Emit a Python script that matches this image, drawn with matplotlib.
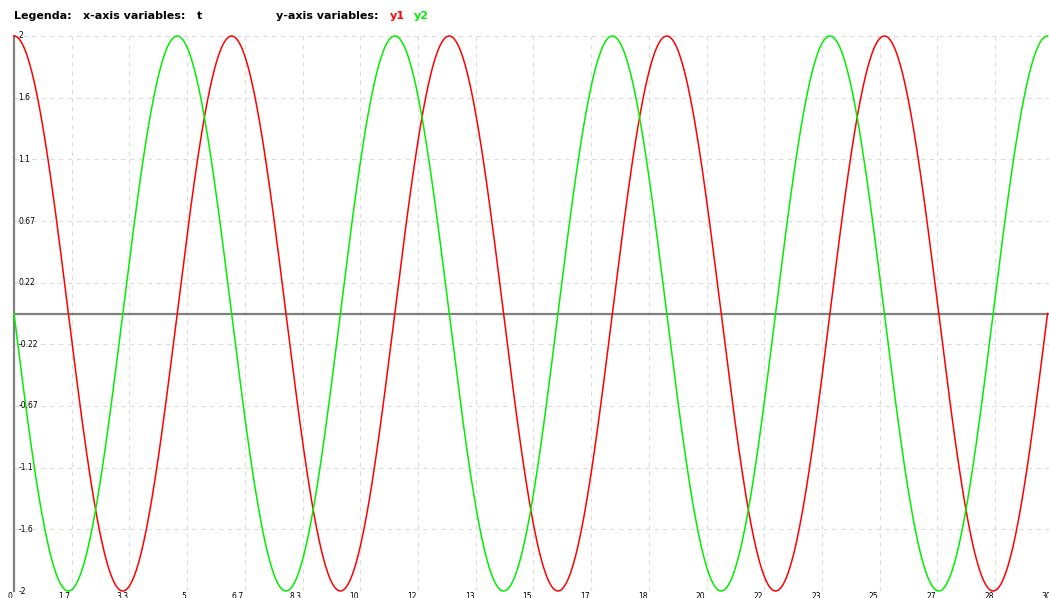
import matplotlib.pyplot as plt
import numpy as np

# sampled curves: y1 = 2 cos t, y2 = -2 sin t, t from 0 to 9.5 pi
t = np.linspace(0, 9.5 * np.pi, 2000)
y1 = 2 * np.cos(t)
y2 = -2 * np.sin(t)

x_ticks = np.linspace(0, 30, 19)
y_ticks = np.linspace(-2, 2, 10)


def short(v):
    # two significant digits, like the tick labels
    if abs(v) < 1e-9:
        return "0"
    return "%.2g" % v


fig = plt.figure(figsize=(10.49, 5.98), dpi=100)
W, H = 1049, 598
x0, x1 = 14, 14 + 30 * 34.63
ytop, ybot = 36, 591
ax = fig.add_axes([x0 / W, 1 - ybot / H, (x1 - x0) / W, (ybot - ytop) / H])
ax.set_xlim(0, 30)
ax.set_ylim(-2, 2)
for s in ax.spines.values():
    s.set_visible(False)
ax.set_xticks([])
ax.set_yticks([])

grid = dict(color='#dcdcdc', lw=0.8, ls=(0, (4, 4)), zorder=1)
for xv in x_ticks[1:]:
    ax.axvline(xv, **grid)
for yv in y_ticks:
    ax.axhline(yv, **grid)

ax.axhline(0, color='#808080', lw=1.6, zorder=2)
ax.axvline(0, color='#808080', lw=1.6, zorder=2, clip_on=False)

ax.plot(t, y1, color='#ff0000', lw=1.1, zorder=3, clip_on=False)
ax.plot(t, y2, color='#00ee00', lw=1.1, zorder=3, clip_on=False)

for yv in y_ticks:
    ax.annotate(short(yv), (0, yv), xytext=(3, 0), textcoords='offset points',
                fontsize=5.5, ha='left', va='center', color='black')
for xv in x_ticks:
    ax.annotate(short(xv), (xv, -2), xytext=(-1, -1), textcoords='offset points',
                fontsize=5.5, ha='right', va='top', color='black',
                annotation_clip=False)

ty = 1 - 16 / H
fs = 8
fig.text(14 / W, ty, "Legenda:", fontsize=fs, fontweight='bold', va='center')
fig.text(83 / W, ty, "x-axis variables:", fontsize=fs, fontweight='bold', va='center')
fig.text(197 / W, ty, "t", fontsize=fs, fontweight='bold', va='center')
fig.text(276 / W, ty, "y-axis variables:", fontsize=fs, fontweight='bold', va='center')
fig.text(390 / W, ty, "y1", fontsize=fs, fontweight='bold', va='center', color='#ff0000')
fig.text(414 / W, ty, "y2", fontsize=fs, fontweight='bold', va='center', color='#00ee00')

fig.savefig("out.png", dpi=100)
